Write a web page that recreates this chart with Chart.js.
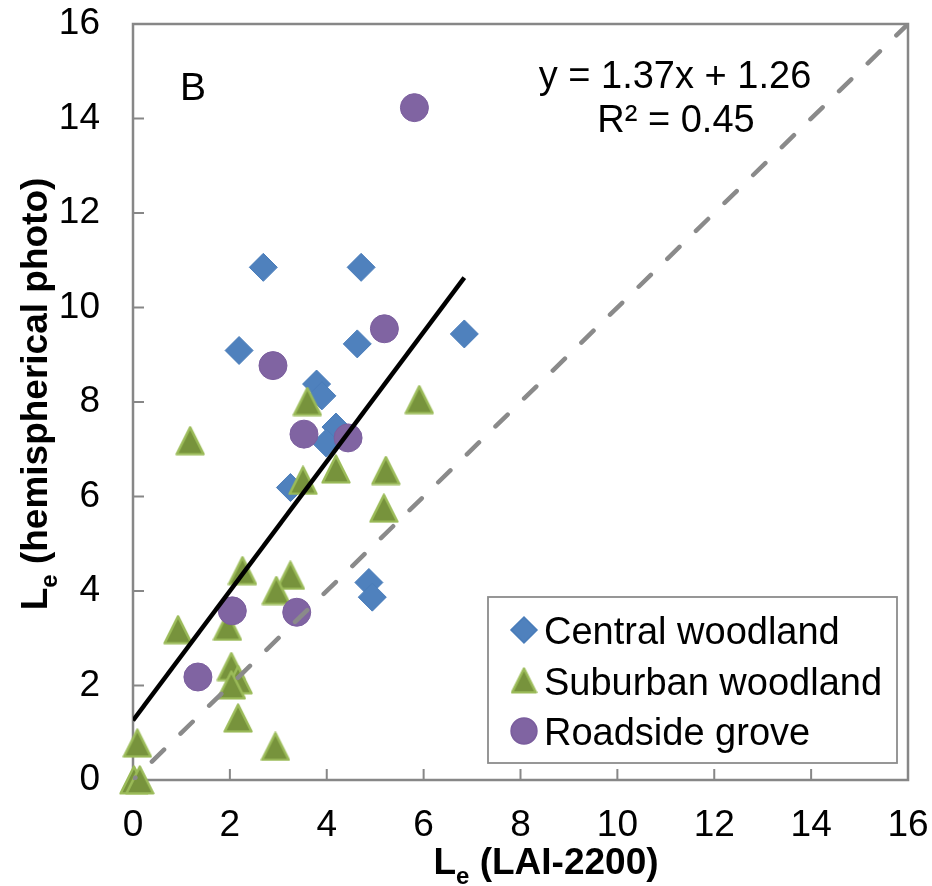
<!DOCTYPE html>
<html>
<head>
<meta charset="utf-8">
<title>Le: LAI-2200 vs hemispherical photo</title>
<script src="https://cdn.jsdelivr.net/npm/chart.js@4.4.0/dist/chart.umd.min.js"></script>
<style>
  html, body { margin: 0; padding: 0; background: #fff; }
  #wrap { width: 932px; height: 886px; }
</style>
</head>
<body>
<div id="wrap"><canvas id="chart" width="932" height="886"></canvas></div>
<script>
// Le pairs per site type (LAI-2200 on x, hemispherical photo on y)
const centralX = [2.69, 4.71, 2.19, 4.63, 6.84, 3.79, 3.90, 4.19, 3.99, 3.25, 4.87, 4.94];
const centralY = [10.85, 10.85, 9.09, 9.23, 9.44, 8.38, 8.13, 7.47, 7.13, 6.19, 4.18, 3.87];

const suburbanX = [1.18, 3.60, 5.91, 4.19, 5.22, 3.51, 5.18, 2.26, 3.25, 2.96, 0.93, 1.95, 2.03, 2.17, 2.03, 2.17, 2.94, 0.09, 0.02, 0.14];
const suburbanY = [7.18, 8.01, 8.05, 6.58, 6.55, 6.34, 5.75, 4.43, 4.33, 4.01, 3.18, 3.25, 2.40, 2.12, 2.01, 1.31, 0.71, 0.78, 0.00, 0.00];

const roadsideX = [5.81, 5.19, 2.89, 3.53, 4.44, 2.05, 3.38, 1.34];
const roadsideY = [14.23, 9.55, 8.77, 7.32, 7.24, 3.58, 3.55, 2.18];

// linear fit shown on the chart
const fitSlope = 1.37;
const fitIntercept = 1.26;
const fitLabel = "y = 1.37x + 1.26";
const r2Label = "R² = 0.45";
const panelLabel = "B";

// 1:1 reference line and axis ticks
const oneToOne = [0, 16];
const axisTicks = [0, 2, 4, 6, 8, 10, 12, 14, 16];

const FONT = "'Liberation Sans', Arial, sans-serif";
const AXIS_GREY = "#878787";

Chart.defaults.font.family = FONT;
Chart.defaults.color = "#000";

const toPoints = (xs, ys) => xs.map((x, i) => ({ x: x, y: ys[i] }));

// Excel-style triangle marker (as tall as it is wide)
function triangleMarker(size, fill, edge) {
  const c = document.createElement("canvas");
  c.width = size;
  c.height = size;
  const g = c.getContext("2d");
  const m = 1.6;
  g.beginPath();
  g.moveTo(size / 2, m);
  g.lineTo(size - m, size - m);
  g.lineTo(m, size - m);
  g.closePath();
  g.fillStyle = fill;
  g.fill();
  g.lineWidth = 2.4;
  g.lineJoin = "round";
  g.strokeStyle = edge;
  g.stroke();
  return c;
}

const triPlot = triangleMarker(30, "#77933C", "#9BBB59");
const triLegend = triangleMarker(27, "#77933C", "#9BBB59");

const allX = centralX.concat(suburbanX, roadsideX);
const fitEnd = Math.max(...allX);

// frame around the plot area + inward tick marks
const framePlugin = {
  id: "frame",
  beforeDatasetsDraw(chart) {
    const { ctx, chartArea: a, scales } = chart;
    ctx.save();
    ctx.strokeStyle = AXIS_GREY;
    ctx.lineWidth = 2.5;
    ctx.strokeRect(a.left, a.top, a.right - a.left, a.bottom - a.top);
    ctx.lineWidth = 2;
    ctx.beginPath();
    scales.x.ticks.forEach(t => {
      const px = scales.x.getPixelForValue(t.value);
      ctx.moveTo(px, a.bottom);
      ctx.lineTo(px, a.bottom - 11);
    });
    scales.y.ticks.forEach(t => {
      const py = scales.y.getPixelForValue(t.value);
      ctx.moveTo(a.left, py);
      ctx.lineTo(a.left + 11, py);
    });
    ctx.stroke();
    ctx.restore();
  }
};

// bold title with a subscript "e"
function subscriptTitle(ctx, main, sub, rest, size) {
  const big = "bold " + size + "px " + FONT;
  const small = "bold " + Math.round(size * 0.66) + "px " + FONT;
  ctx.font = big;
  const w1 = ctx.measureText(main).width;
  const w3 = ctx.measureText(rest).width;
  ctx.font = small;
  const w2 = ctx.measureText(sub).width;
  return {
    width: w1 + w2 + w3,
    draw(x, y) {
      ctx.textAlign = "left";
      ctx.textBaseline = "alphabetic";
      ctx.font = big;
      ctx.fillText(main, x, y);
      ctx.font = small;
      ctx.fillText(sub, x + w1, y + 10);
      ctx.font = big;
      ctx.fillText(rest, x + w1 + w2, y);
    }
  };
}

// axis titles, fit equation, panel letter and legend
const textPlugin = {
  id: "texts",
  afterDraw(chart) {
    const { ctx, chartArea: a } = chart;
    ctx.save();
    ctx.fillStyle = "#000";

    const xt = subscriptTitle(ctx, "L", "e", " (LAI-2200)", 37);
    xt.draw(a.left + 413 - xt.width / 2, a.bottom + 94);

    const yt = subscriptTitle(ctx, "L", "e", " (hemispherical photo)", 37);
    ctx.save();
    ctx.translate(47, a.top + 370);
    ctx.rotate(-Math.PI / 2);
    yt.draw(-yt.width / 2, 0);
    ctx.restore();

    ctx.font = "38px " + FONT;
    ctx.textAlign = "center";
    ctx.textBaseline = "alphabetic";
    ctx.fillText(fitLabel, a.left + 542, a.top + 64);
    ctx.fillText(r2Label, a.left + 543, a.top + 108);

    ctx.textAlign = "left";
    ctx.font = "39px " + FONT;
    ctx.fillText(panelLabel, a.left + 47, a.top + 76);

    // legend
    const bx = a.left + 355, by = a.top + 573, bw = 409, bh = 166;
    ctx.fillStyle = "#fff";
    ctx.fillRect(bx, by, bw, bh);
    ctx.strokeStyle = "#8c8c8c";
    ctx.lineWidth = 1.8;
    ctx.strokeRect(bx, by, bw, bh);

    ctx.font = "38px " + FONT;
    chart.data.datasets.filter(d => d.inLegend).forEach((d, i) => {
      const my = by + 33 + i * 50.5;
      const mx = bx + 36;
      ctx.fillStyle = d.backgroundColor;
      ctx.strokeStyle = d.borderColor;
      if (d.pointStyle instanceof HTMLCanvasElement) {
        ctx.drawImage(triLegend, mx - triLegend.width / 2, my - triLegend.height / 2);
      } else {
        Chart.helpers.drawPoint(ctx, {
          pointStyle: d.pointStyle, rotation: 0,
          radius: 12.8, borderWidth: 1
        }, mx, my);
      }
      ctx.fillStyle = "#000";
      ctx.fillText(d.label, bx + 56, my + 14);
    });
    ctx.restore();
  }
};

new Chart(document.getElementById("chart"), {
  type: "scatter",
  data: {
    datasets: [
      {
        label: "Central woodland",
        inLegend: true,
        data: toPoints(centralX, centralY),
        pointStyle: "rectRot",
        pointRadius: 14,
        backgroundColor: "#4F81BD",
        borderColor: "#4A7DBA",
        borderWidth: 1,
        clip: false,
        order: 3
      },
      {
        label: "Suburban woodland",
        inLegend: true,
        data: toPoints(suburbanX, suburbanY),
        pointStyle: triPlot,
        pointRadius: 15,
        backgroundColor: "#77933C",
        borderColor: "#9BBB59",
        clip: false,
        order: 2
      },
      {
        label: "Roadside grove",
        inLegend: true,
        data: toPoints(roadsideX, roadsideY),
        pointStyle: "circle",
        pointRadius: 14,
        backgroundColor: "#8064A2",
        borderColor: "#7B5E9E",
        borderWidth: 1,
        clip: false,
        order: 1
      },
      {
        label: "Linear fit",
        data: [
          { x: 0, y: fitIntercept },
          { x: fitEnd, y: fitSlope * fitEnd + fitIntercept }
        ],
        showLine: true,
        pointRadius: 0,
        borderColor: "#000",
        borderWidth: 4.5,
        order: 0
      },
      {
        label: "1:1",
        data: oneToOne.map(v => ({ x: v, y: v })),
        showLine: true,
        pointRadius: 0,
        borderColor: "#8a8a8a",
        borderWidth: 4.5,
        borderDash: [17, 23],
        borderDashOffset: 13.6,
        borderCapStyle: "round",
        order: 0
      }
    ]
  },
  options: {
    responsive: false,
    animation: false,
    layout: { padding: { top: 24, right: 24, left: 0, bottom: 0 } },
    plugins: {
      legend: { display: false },
      tooltip: { enabled: false }
    },
    scales: {
      x: {
        type: "linear",
        min: 0,
        max: 16,
        afterBuildTicks: s => { s.ticks = axisTicks.map(v => ({ value: v })); },
        afterFit: s => { s.height = 106; },
        // hidden tick length only spaces the labels; inward ticks are drawn by the frame plugin
        grid: { display: false, drawTicks: true, tickLength: 24 },
        border: { display: false },
        ticks: { font: { size: 37, lineHeight: 1.2 }, padding: 0, color: "#000", maxRotation: 0 }
      },
      y: {
        type: "linear",
        min: 0,
        max: 16,
        afterBuildTicks: s => { s.ticks = axisTicks.map(v => ({ value: v })); },
        afterFit: s => { s.width = 133; },
        grid: { display: false, drawTicks: true, tickLength: 33 },
        border: { display: false },
        ticks: { font: { size: 37, lineHeight: 1.2 }, padding: 0, color: "#000" }
      }
    }
  },
  plugins: [framePlugin, textPlugin]
});
</script>
</body>
</html>
